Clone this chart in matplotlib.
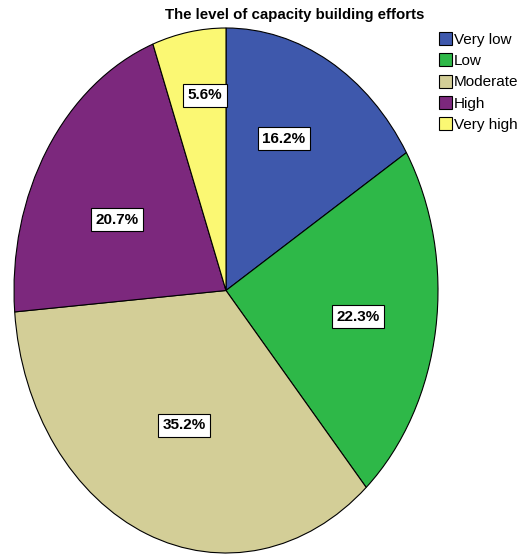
import numpy as np
import matplotlib.pyplot as plt

# data
categories = ['Very low', 'Low', 'Moderate', 'High', 'Very high']
percents = [16.2, 22.3, 35.2, 20.7, 5.6]
colors = ['#3E58AC', '#2EB848', '#D3CE97', '#7C287D', '#FBF873']

# where each % box sits: radius and angle nudge from the wedge middle
label_r = [0.64, 0.63, 0.55, 0.58, 0.75]
label_shift = [3.9, -0.6, 1.0, 4.8, -2.5]

plt.rcParams['font.family'] = ['Liberation Sans', 'DejaVu Sans']

fig = plt.figure(figsize=(5.24, 5.54), dpi=100)
ax = fig.add_axes([14/524, 1/554, 424/524, 525/554])

wedges, _ = ax.pie(percents, colors=colors, startangle=90, counterclock=False,
                   radius=1.0, wedgeprops=dict(edgecolor='black', linewidth=0.8))
ax.set_aspect('auto')
ax.set_xlim(-1.0, 1.0)
ax.set_ylim(-1.0, 1.0)

# percentage boxes
for w, r, s, p in zip(wedges, label_r, label_shift, percents):
    mid = np.deg2rad((w.theta1 + w.theta2) / 2 + s)
    ax.text(r * np.cos(mid), r * np.sin(mid), f'{p:.1f}%', ha='center', va='center',
            fontsize=11, fontweight='bold',
            bbox=dict(facecolor='white', edgecolor='black', linewidth=0.8, pad=3.2))

fig.text(295/524, 1 - 15/554, 'The level of capacity building efforts',
         ha='center', va='center', fontsize=10.8, fontweight='bold')

fig.legend(wedges, categories, loc='upper left', bbox_to_anchor=(439/524, 1 - 32/554),
           frameon=False, fontsize=11, handlelength=0.85, handleheight=0.95,
           handletextpad=0.1, labelspacing=0.42, borderaxespad=0, borderpad=0)

fig.savefig('out.png', dpi=100)
